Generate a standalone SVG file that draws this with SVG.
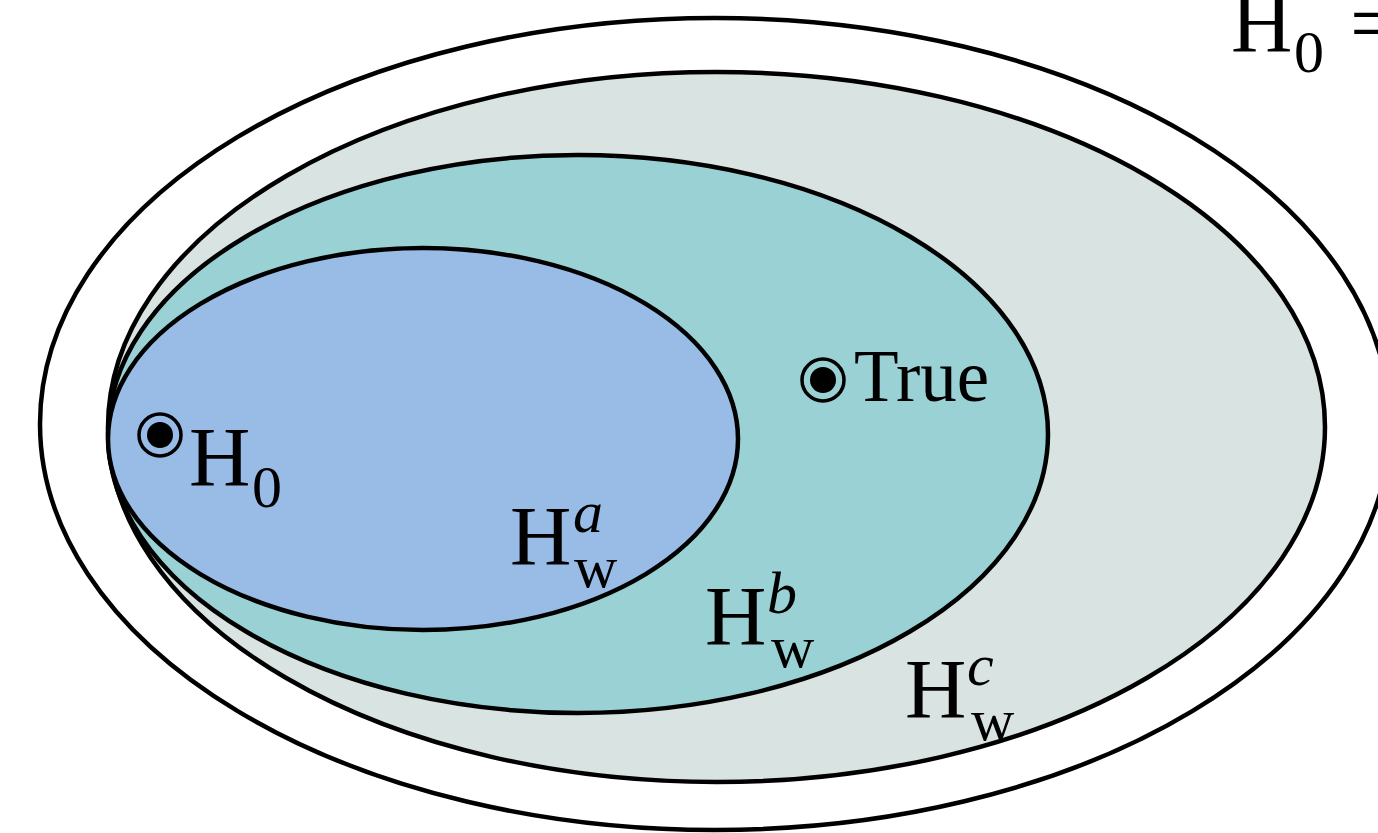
<svg xmlns="http://www.w3.org/2000/svg" width="1378" height="833" viewBox="0 0 1378 833">
<style>
.e{stroke:#000;stroke-width:4.5}
.t{font-family:"Liberation Serif","Times New Roman",serif;fill:#000}
.big{font-size:85px}
.sm{font-size:60px}
.it{font-style:italic}
.tr{font-size:73px}
</style>
<rect width="1378" height="833" fill="#fff"/>
<g id="outer"><ellipse class="e" cx="715" cy="424" rx="675" ry="406" fill="#fff"/></g>
<g id="Hwc"><ellipse class="e" cx="716.5" cy="427" rx="608.5" ry="355" fill="#D9E3E2"/></g>
<g id="Hwb"><ellipse class="e" cx="578" cy="434" rx="470" ry="279" fill="#99D1D4"/></g>
<g id="Hwa"><ellipse class="e" cx="423" cy="439" rx="315" ry="191" fill="#98BCE6"/></g>
<g id="H0point">
<circle cx="160" cy="435" r="21" fill="none" stroke="#000" stroke-width="3.5"/>
<circle cx="160" cy="435" r="13" fill="#000"/>
<text class="t big" x="189" y="486">H</text>
<text class="t sm" x="252" y="507">0</text>
</g>
<g id="Truepoint">
<circle cx="823" cy="380" r="21" fill="none" stroke="#000" stroke-width="3.5"/>
<circle cx="823" cy="380" r="13" fill="#000"/>
<text class="t tr" x="854" y="401">True</text>
</g>
<g id="labelA">
<text class="t big" x="510" y="565">H</text>
<text class="t sm it" x="573" y="532">a</text>
<text class="t sm" x="574" y="587">w</text>
</g>
<g id="labelB">
<text class="t big" x="705" y="645">H</text>
<text class="t sm it" x="767" y="613">b</text>
<text class="t sm" x="771" y="667">w</text>
</g>
<g id="labelC">
<text class="t big" x="905" y="718">H</text>
<text class="t sm it" x="967" y="685">c</text>
<text class="t sm" x="971" y="740">w</text>
</g>
<g id="topright">
<text class="t big" x="1231" y="52">H</text>
<text class="t sm" x="1294" y="72">0</text>
<text class="t big" x="1350" y="52">=</text>
</g>
<g id="connectors"></g>
</svg>
